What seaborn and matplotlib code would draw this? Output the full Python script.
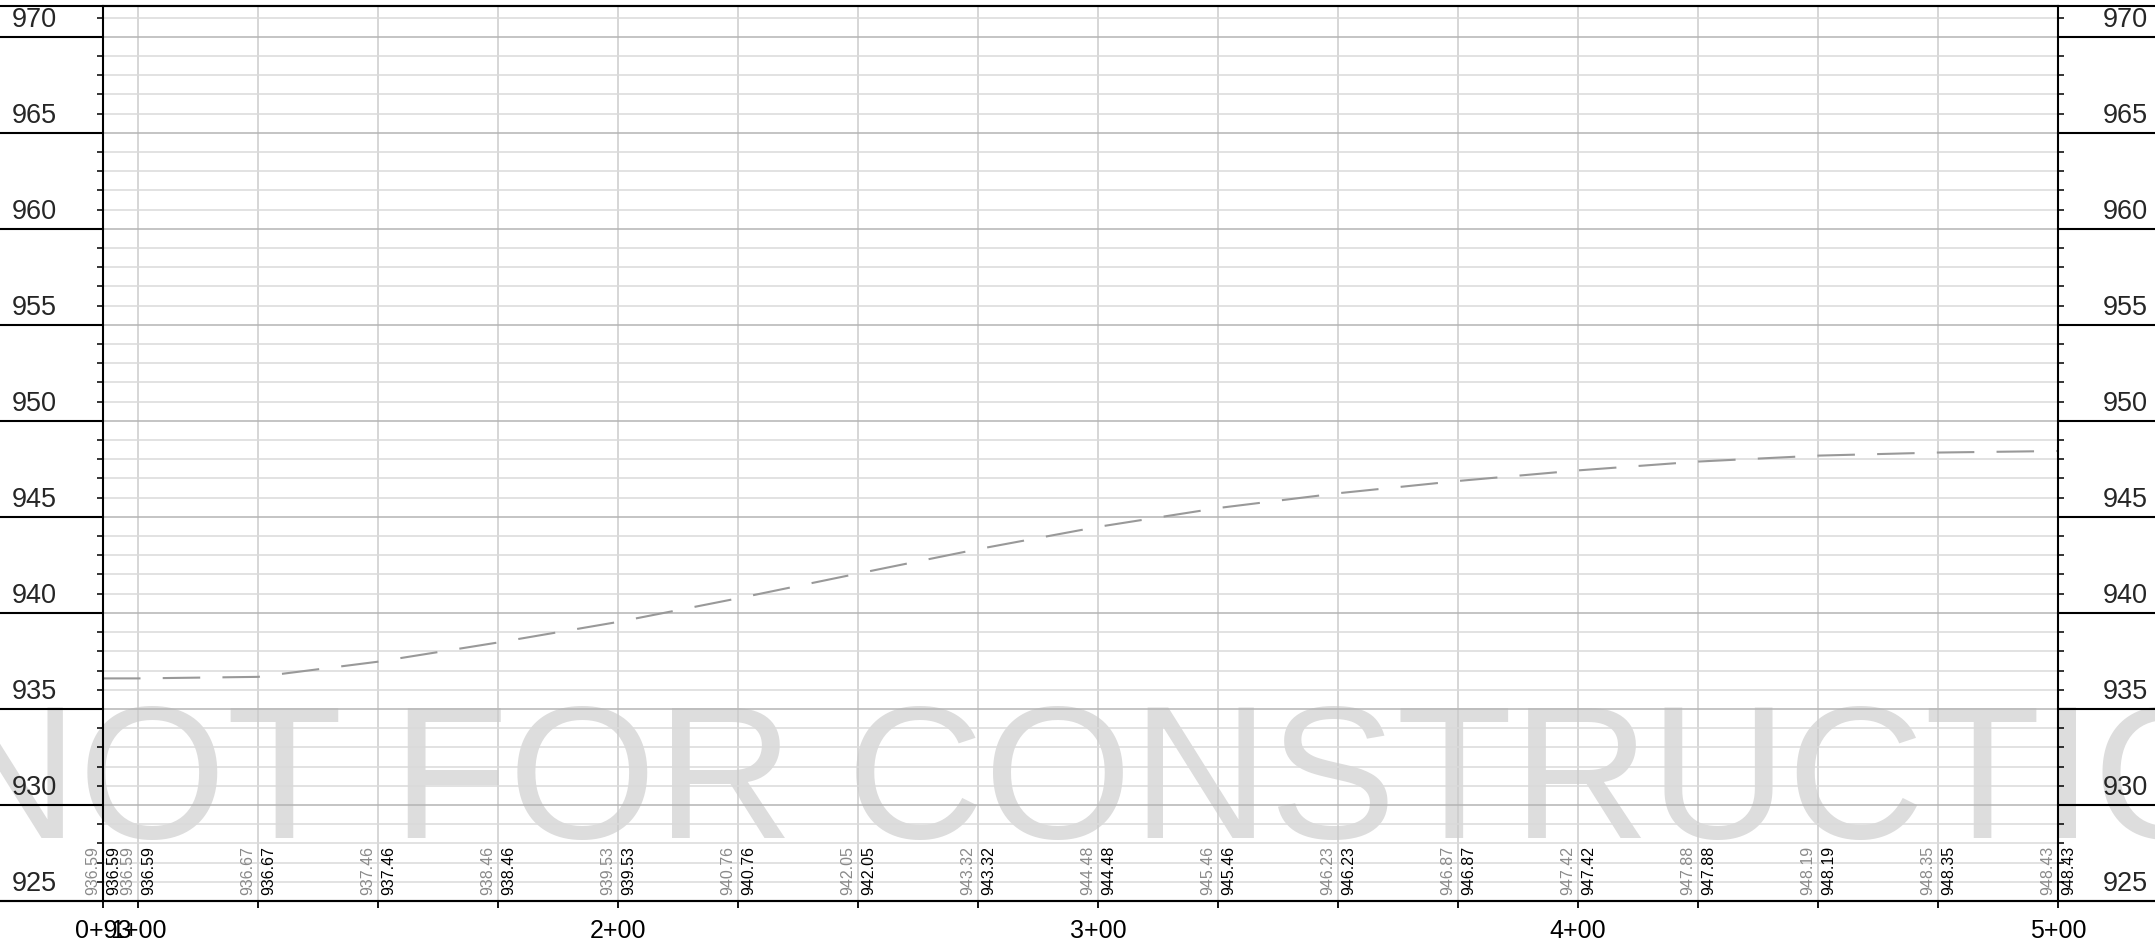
import matplotlib
matplotlib.use("Agg")
import matplotlib.pyplot as plt
from matplotlib.lines import Line2D
from matplotlib.ticker import FixedLocator, MultipleLocator
import seaborn as sns
import pandas as pd

# profile data: stations (ft) and elevations (ft)
stations = [92.7, 100, 125, 150, 175, 200, 225, 250, 275, 300,
            325, 350, 375, 400, 425, 450, 475, 500]
elevations = [936.59, 936.59, 936.67, 937.46, 938.46, 939.53, 940.76, 942.05,
              943.32, 944.48, 945.46, 946.23, 946.87, 947.42, 947.88, 948.19,
              948.35, 948.43]
station_ticks = [92.7, 100, 200, 300, 400, 500]
station_labels = ["0+93", "1+00", "2+00", "3+00", "4+00", "5+00"]
elev_ticks = [925, 930, 935, 940, 945, 950, 955, 960, 965, 970]

sns.set_style("white")
plt.rcParams['font.family'] = ['Liberation Sans', 'DejaVu Sans']
plt.rcParams['lines.scale_dashes'] = False

W, H = 2155, 946
fig = plt.figure(figsize=(W / 100, H / 100), dpi=100)
ax = fig.add_axes([103 / W, (H - 901) / H, (2058 - 103) / W, (901 - 6) / H])
ax.set_facecolor('none')

# watermark behind everything
fig.text(1160 / W, (H - 838) / H, "NOT FOR CONSTRUCTION", fontsize=137,
         color='#dddddd', ha='center', va='baseline', zorder=-1)

df = pd.DataFrame({'station': stations, 'elev': elevations})
sns.lineplot(data=df, x='station', y='elev', ax=ax, color='#999999',
             linewidth=1.5, linestyle=(0, (27, 16)))

ax.set_xlim(92.7, 500)
ax.set_ylim(925, 971.6)
ax.set_xlabel('')
ax.set_ylabel('')

# grid
ax.yaxis.set_major_locator(FixedLocator(elev_ticks))
ax.yaxis.set_minor_locator(MultipleLocator(1))
ax.xaxis.set_major_locator(FixedLocator(station_ticks))
ax.xaxis.set_minor_locator(FixedLocator([s for s in stations if s not in station_ticks]))
ax.set_xticklabels(station_labels)
ax.grid(which='major', axis='y', color='#b4b4b4', linewidth=1.1)
ax.grid(which='minor', axis='y', color='#dadada', linewidth=1.1)
ax.grid(which='both', axis='x', color='#cccccc', linewidth=1.1)

# ticks
ax.tick_params(axis='y', which='major', left=True, right=True, length=75,
               width=1.5, color='black', direction='out',
               labelleft=False, labelright=False)
ax.tick_params(axis='y', which='minor', left=True, right=True, length=4.3,
               width=1.1, color='black', direction='out')
ax.tick_params(axis='x', which='both', bottom=True, length=5, width=1.3,
               color='black', direction='out')
ax.tick_params(axis='x', which='major', labelsize=18, pad=8, labelcolor='black')

for sp in ax.spines.values():
    sp.set_color('black')
    sp.set_linewidth(1.5)

# frame lines spanning the page
fig.add_artist(Line2D([0, 1], [(H - 901) / H] * 2, transform=fig.transFigure,
                      color='black', linewidth=1.5))
fig.add_artist(Line2D([0, 1], [(H - 6) / H] * 2, transform=fig.transFigure,
                      color='black', linewidth=1.5))

# elevation labels sitting above major tick lines, both sides
for v in elev_ticks:
    ax.annotate(str(v), xy=(0, v), xycoords=('axes fraction', 'data'),
                xytext=(-65.5, 7.2), textcoords='offset points',
                ha='left', va='baseline', fontsize=19.5, annotation_clip=False)
    ax.annotate(str(v), xy=(1, v), xycoords=('axes fraction', 'data'),
                xytext=(64.8, 7.2), textcoords='offset points',
                ha='right', va='baseline', fontsize=19.5, annotation_clip=False)

# station elevation labels (existing grey, proposed black)
for s, e in zip(stations, elevations):
    ax.annotate(f"{e:.2f}", xy=(s, 925), xytext=(-2.2, 4.3),
                textcoords='offset points', rotation=90, ha='right',
                va='bottom', color='#8a8a8a', fontsize=11.5,
                annotation_clip=False)
    ax.annotate(f"{e:.2f}", xy=(s, 925), xytext=(2.2, 4.3),
                textcoords='offset points', rotation=90, ha='left',
                va='bottom', color='black', fontsize=11.5,
                annotation_clip=False)

fig.savefig('out.png', dpi=100)
